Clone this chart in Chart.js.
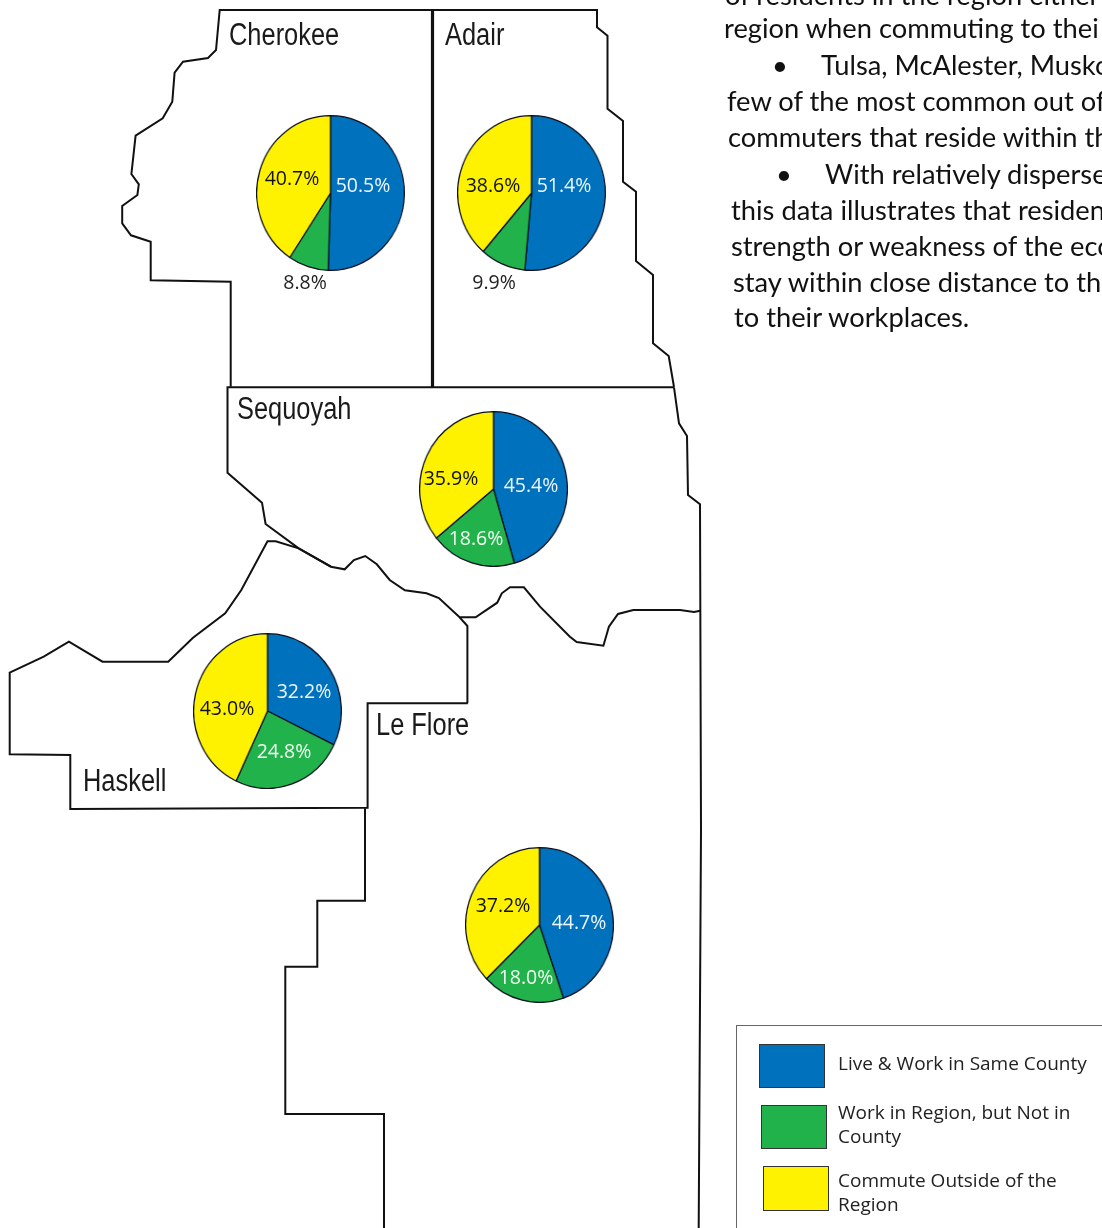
<!DOCTYPE html>
<html>
<head>
<meta charset="utf-8">
<title>Commuting patterns by county</title>
<script src="https://cdn.jsdelivr.net/npm/chart.js@4"></script>
<style>
html, body { margin: 0; padding: 0; background: #fff; }
#page { position: relative; width: 1102px; height: 1228px; overflow: hidden; }
#page canvas { position: absolute; }
.t { position: absolute; white-space: nowrap; transform: translateY(-50%); line-height: 1; }
.county { font-family: "Liberation Sans", sans-serif; font-size: 31px; color: #1a1a1a; transform: translateY(-50%) scaleX(0.82); transform-origin: left center; }
.pct { font-family: "Open Sans", sans-serif; font-size: 19.5px; transform: translate(-50%, -50%); }
.body { font-family: Lato, sans-serif; font-size: 27.3px; color: #111; }
.legend { font-family: "Open Sans", sans-serif; font-size: 19px; color: #222; }
.swatch { position: absolute; box-sizing: border-box; border: 1px solid #333; }
#legendBox { position: absolute; left: 736px; top: 1025px; width: 400px; height: 300px; box-sizing: border-box; border: 1.5px solid #666; }
</style>
</head>
<body>
<div id="page"></div>
<script>
const categories = ['Live & Work in Same County', 'Work in Region, but Not in County', 'Commute Outside of the Region'];
const colors = ['#0071BC', '#22B24C', '#FFF200'];
const labelColors = ['#eef6ff', '#f2fff2', '#111111'];

const counties = ['Cherokee', 'Adair', 'Sequoyah', 'Haskell', 'Le Flore'];
const sameCounty = [50.5, 51.4, 45.4, 32.2, 44.7];
const inRegion = [8.8, 9.9, 18.6, 24.8, 18.0];
const outside = [40.7, 38.6, 35.9, 43.0, 37.2];

// pie centres on the page
const pieCenters = [[330.5, 192.5], [531.5, 192.5], [493.5, 488.5], [267.5, 710.5], [539.5, 924.5]];
const pieW = 149, pieH = 155;

// where each percentage label sits, per county: same county, in region, outside
const labelSpots = [
    [[363, 185], [305, 282], [292, 178]],
    [[564, 185], [494, 282], [493, 185]],
    [[531, 485], [476, 538], [451, 478]],
    [[304, 691], [284, 751], [227, 708]],
    [[579, 922], [526, 977], [503, 905]]
];
const countySpots = [[229, 34], [445, 34], [237, 408], [83, 780], [376, 724]];

const outerNorth = [[230.7, 386.7], [230.7, 281.7], [150.7, 280.3], [150.7, 241.7], [131, 235.3], [122.2, 223.3], [122.2, 206],
    [137.4, 195], [138.8, 184.3], [131.4, 174], [135.6, 135.7], [162.7, 118.3], [172.3, 101.7], [174.6, 72.7], [183, 61.7],
    [208, 58], [216, 50], [219.7, 10], [597, 10], [597, 27.3], [607.5, 35.7], [607.5, 108.7], [623, 121], [623, 181.7],
    [636, 191.7], [636, 261], [653, 275], [653, 343.3], [668.7, 356], [674, 387]];
const divider = [[432.5, 10], [432.5, 387]];
const sequoyah = [[674, 387.3], [227.5, 387.3], [227.5, 472.7], [262, 502.7], [265.6, 524], [298.7, 548.3], [330.9, 566.7], [344.7, 569.3],
    [353.9, 560], [365.3, 556], [376.8, 564.3], [389.7, 580], [404.9, 590.3], [426.5, 593.3], [438.9, 598], [459.6, 617.3],
    [475.6, 617.3], [497.2, 602.7], [501.8, 593.3], [510, 587.3], [523.9, 587.3], [540, 606.7], [569.9, 636.7], [576.7, 642],
    [603.4, 645.7], [608.9, 626.7], [618, 614], [633.3, 610], [680, 610], [694, 612], [700.4, 610.7]];
const eastEdge = [[674, 387.3], [679, 423.3], [687, 436], [688, 495], [700, 504.3], [701, 830], [698.7, 1228]];
const haskell = [[330.9, 566.7], [298.7, 548.3], [275.7, 541.3], [267.5, 541.3], [241.3, 590], [225.2, 613.3], [193, 637.7], [168.2, 661.7],
    [102.5, 661.7], [68.9, 641.7], [43.7, 656.7], [9.7, 672.7], [9.7, 754.3], [70.3, 755], [70.3, 809], [367.6, 807.7],
    [367.6, 703.3], [467.8, 703.3], [467.4, 626], [459.6, 617.3]];
const leFlore = [[365, 808.3], [365, 900.7], [317.3, 900.7], [317.3, 966.7], [285.3, 966.7], [285.3, 1114], [384, 1114], [384, 1228]];
const borders = [outerNorth, sequoyah, eastEdge, haskell, leFlore];

const bodyLines = [
    ['of residents in the region either', 725, -5],
    ['region when commuting to thei', 724, 28],
    ['•', 772, 65],
    ['Tulsa, McAlester, Musko', 821, 65],
    ['few of the most common out of', 727, 101],
    ['commuters that reside within th', 728, 137],
    ['•', 776, 174],
    ['With relatively disperse', 825, 174],
    ['this data illustrates that residen', 731, 210],
    ['strength or weakness of the eco', 731, 246],
    ['stay within close distance to the', 733, 282],
    ['to their workplaces.', 734, 317]
];
const legendRows = [
    [[759, 1044, 66, 44], [['Live & Work in Same County', 838, 1063]]],
    [[761, 1105, 66, 44], [['Work in Region, but Not in', 838, 1112], ['County', 838, 1136]]],
    [[763, 1166, 66, 45], [['Commute Outside of the', 838, 1180], ['Region', 838, 1204]]]
];

const page = document.getElementById('page');

function addText(cls, text, x, y, color) {
    const d = document.createElement('div');
    d.className = 't ' + cls;
    d.textContent = text;
    d.style.left = x + 'px';
    d.style.top = y + 'px';
    if (color) d.style.color = color;
    page.appendChild(d);
}

function addCanvas(w, h) {
    const c = document.createElement('canvas');
    c.width = w;
    c.height = h;
    page.appendChild(c);
    return c;
}

function toPoints(line) {
    return line.map(p => ({ x: p[0], y: p[1] }));
}

// the map itself: border lines on a page sized scatter chart
const mapCanvas = addCanvas(1102, 1228);
mapCanvas.style.left = '0px';
mapCanvas.style.top = '0px';
const mapSets = borders.map(line => ({ data: toPoints(line), borderColor: '#111', borderWidth: 2 }));
mapSets.push({ data: toPoints(divider), borderColor: '#111', borderWidth: 3.2 });
new Chart(mapCanvas, {
    type: 'scatter',
    data: { datasets: mapSets },
    options: {
        responsive: false,
        animation: false,
        showLine: true,
        elements: { point: { radius: 0 }, line: { tension: 0 } },
        plugins: { legend: { display: false }, tooltip: { enabled: false } },
        scales: {
            x: { display: false, min: 0, max: 1102 },
            y: { display: false, min: 0, max: 1228, reverse: true }
        }
    }
});

// one pie per county, squeezed a little in x like the source map
counties.forEach((name, i) => {
    const values = [sameCounty[i], inRegion[i], outside[i]];
    const c = addCanvas(pieH + 1, pieH + 1);
    new Chart(c, {
        type: 'pie',
        data: {
            labels: categories,
            datasets: [{ data: values, backgroundColor: colors, borderColor: '#0b1020', borderWidth: 1.3 }]
        },
        options: {
            responsive: false,
            animation: false,
            plugins: { legend: { display: false }, tooltip: { enabled: false } }
        }
    });
    const w = (pieH + 1) * pieW / pieH;
    c.style.width = w + 'px';
    c.style.height = (pieH + 1) + 'px';
    c.style.left = (pieCenters[i][0] - w / 2) + 'px';
    c.style.top = (pieCenters[i][1] - (pieH + 1) / 2) + 'px';

    values.forEach((v, j) => {
        // small slices carry their label outside the pie
        const color = (v < 10) ? '#222' : labelColors[j];
        addText('pct', v.toFixed(1) + '%', labelSpots[i][j][0], labelSpots[i][j][1], color);
    });
    addText('county', name, countySpots[i][0], countySpots[i][1]);
});

bodyLines.forEach(l => addText('body', l[0], l[1], l[2]));

const box = document.createElement('div');
box.id = 'legendBox';
page.appendChild(box);
legendRows.forEach((row, i) => {
    const s = document.createElement('div');
    s.className = 'swatch';
    s.style.left = row[0][0] + 'px';
    s.style.top = row[0][1] + 'px';
    s.style.width = row[0][2] + 'px';
    s.style.height = row[0][3] + 'px';
    s.style.background = colors[i];
    page.appendChild(s);
    row[1].forEach(l => addText('legend', l[0], l[1], l[2]));
});
</script>
</body>
</html>
